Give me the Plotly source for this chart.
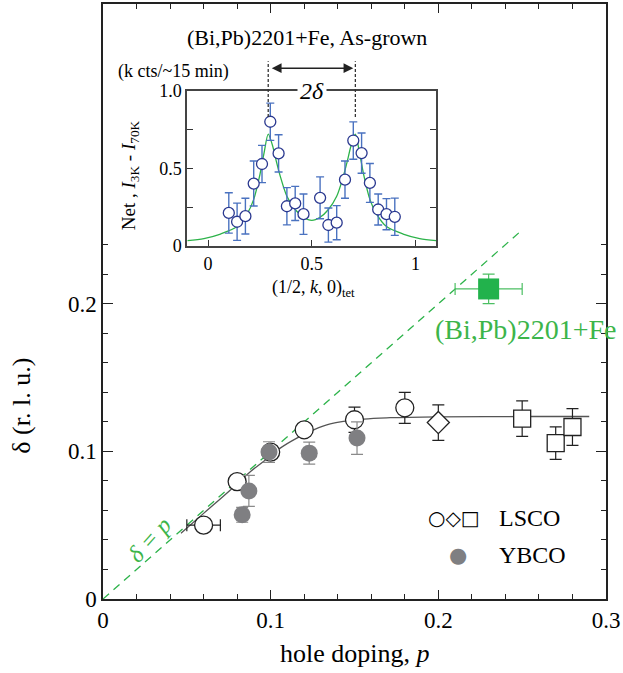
import plotly.graph_objects as go

# ---------------- main panel data ----------------
lsco_circ_p = [0.06, 0.08, 0.10, 0.12, 0.15, 0.18]
lsco_circ_d = [0.050, 0.0795, 0.0995, 0.1146, 0.1214, 0.1295]
lsco_circ_derr = [0.0, 0.0, 0.0, 0.0, 0.0086, 0.0105]
lsco_circ_perr = [0.01, 0.0, 0.0, 0.0, 0.0, 0.0]

lsco_dia_p = [0.20]
lsco_dia_d = [0.1195]
lsco_dia_derr = [0.012]

lsco_sq_p = [0.25, 0.27, 0.28]
lsco_sq_d = [0.1222, 0.1056, 0.1165]
lsco_sq_derr = [0.012, 0.011, 0.0125]

ybco_p = [0.083, 0.087, 0.099, 0.123, 0.1515]
ybco_d = [0.057, 0.0732, 0.0995, 0.0988, 0.109]
ybco_derr = [0.005, 0.0105, 0.007, 0.0074, 0.011]

bi_p = [0.23]
bi_d = [0.21]
bi_perr = [0.02]
bi_derr = [0.01]

fit_p = [0.0465, 0.06, 0.076, 0.088, 0.0995, 0.1057, 0.1156, 0.1256, 0.1355,
         0.1554, 0.1713, 0.20, 0.25, 0.29]
fit_d = [0.0445, 0.058, 0.0739, 0.0863, 0.0965, 0.1022, 0.1090, 0.1146, 0.1186,
         0.1218, 0.1228, 0.1234, 0.1236, 0.1236]

line_p = [0.0, 0.25]
line_d = [0.0, 0.25]

# ---------------- inset data ----------------
k_pts = [0.10, 0.14, 0.18, 0.22, 0.26, 0.30, 0.34, 0.38, 0.42, 0.46,
         0.54, 0.58, 0.62, 0.66, 0.70, 0.74, 0.78, 0.82, 0.86, 0.90]
i_pts = [0.213, 0.156, 0.192, 0.402, 0.528, 0.800, 0.596, 0.256, 0.274, 0.205,
         0.310, 0.135, 0.150, 0.427, 0.679, 0.598, 0.406, 0.235, 0.205, 0.188]
i_err = [0.13, 0.12, 0.115, 0.145, 0.12, 0.12, 0.12, 0.12, 0.11, 0.13,
         0.135, 0.11, 0.11, 0.12, 0.12, 0.13, 0.125, 0.10, 0.10, 0.12]

k_fit = [-0.10, -0.02, 0.06, 0.14, 0.19, 0.22, 0.25, 0.27, 0.29, 0.31, 0.33, 0.35,
         0.38, 0.42, 0.46, 0.50, 0.54, 0.58, 0.62, 0.65, 0.67, 0.69, 0.71, 0.73,
         0.75, 0.78, 0.81, 0.86, 0.94, 1.02, 1.10]
i_fit = [0.034, 0.048, 0.077, 0.125, 0.21, 0.30, 0.46, 0.60, 0.72, 0.65, 0.54, 0.44,
         0.32, 0.235, 0.185, 0.165, 0.185, 0.235, 0.32, 0.44, 0.54, 0.65, 0.72, 0.60,
         0.46, 0.30, 0.21, 0.125, 0.077, 0.048, 0.034]

peak_k = [0.29, 0.71]

# ---------------- styles ----------------
SERIF = "Liberation Serif"
GREEN = "#2db34a"
GREEN_T = "#3cb54a"
BLUE = "#2b3990"
BLUE_E = "#4a72c0"
GRAY = "#7f7f82"
INK = "#222222"

fig = go.Figure()

# main panel
fig.add_trace(go.Scatter(x=line_p, y=line_d, mode="lines",
                         line=dict(color=GREEN, width=1.3, dash="8px,6px"),
                         xaxis="x", yaxis="y", showlegend=False))
fig.add_trace(go.Scatter(x=fit_p, y=fit_d, mode="lines",
                         line=dict(color="#555555", width=1.3, shape="spline"),
                         xaxis="x", yaxis="y", showlegend=False))
fig.add_trace(go.Scatter(x=lsco_circ_p, y=lsco_circ_d, mode="markers",
                         marker=dict(symbol="circle", size=18, color="white",
                                     line=dict(color=INK, width=1.3)),
                         error_y=dict(type="data", array=lsco_circ_derr, color=INK,
                                      thickness=1.2, width=6),
                         error_x=dict(type="data", array=lsco_circ_perr, color=INK,
                                      thickness=1.2, width=6),
                         showlegend=False))
fig.add_trace(go.Scatter(x=lsco_dia_p, y=lsco_dia_d, mode="markers",
                         marker=dict(symbol="diamond", size=17, color="white",
                                     line=dict(color=INK, width=1.3)),
                         error_y=dict(type="data", array=lsco_dia_derr, color=INK,
                                      thickness=1.2, width=6),
                         showlegend=False))
fig.add_trace(go.Scatter(x=lsco_sq_p, y=lsco_sq_d, mode="markers",
                         marker=dict(symbol="square", size=17, color="white",
                                     line=dict(color=INK, width=1.3)),
                         error_y=dict(type="data", array=lsco_sq_derr, color=INK,
                                      thickness=1.2, width=6),
                         showlegend=False))
fig.add_trace(go.Scatter(x=ybco_p, y=ybco_d, mode="markers",
                         marker=dict(symbol="circle", size=17, color=GRAY,
                                     line=dict(width=0)),
                         error_y=dict(type="data", array=ybco_derr, color="#8a8a8a",
                                      thickness=1.2, width=6),
                         showlegend=False))
fig.add_trace(go.Scatter(x=bi_p, y=bi_d, mode="markers",
                         marker=dict(symbol="square", size=21, color="#22b24c",
                                     line=dict(width=0)),
                         error_y=dict(type="data", array=bi_derr, color="#4cbf63",
                                      thickness=1.2, width=6),
                         error_x=dict(type="data", array=bi_perr, color="#4cbf63",
                                      thickness=1.2, width=6),
                         showlegend=False))

# inset
fig.add_trace(go.Scatter(x=k_fit, y=i_fit, mode="lines",
                         line=dict(color=GREEN, width=1.3, shape="spline", smoothing=0.8),
                         xaxis="x2", yaxis="y2", showlegend=False))
fig.add_trace(go.Scatter(x=k_pts, y=i_pts, mode="markers",
                         marker=dict(symbol="circle", size=11, color="white",
                                     line=dict(color=BLUE, width=1.3)),
                         error_y=dict(type="data", array=i_err, color=BLUE_E,
                                      thickness=1.4, width=4),
                         xaxis="x2", yaxis="y2", showlegend=False))

# ---------------- axes ----------------
tick_font = dict(family=SERIF, size=23, color="black")
minor_y_main = [round(0.02 * i, 2) for i in range(1, 13) if i % 5 != 0]

fig.update_layout(
    width=623, height=673,
    margin=dict(l=103, r=17, t=4, b=74, autoexpand=False),
    paper_bgcolor="white", plot_bgcolor="white",
    xaxis=dict(range=[0, 0.3], tickvals=[0, 0.1, 0.2, 0.3],
               ticktext=["0", "0.1", "0.2", "0.3"],
               ticks="inside", ticklen=9, tickwidth=1.3, tickcolor=INK,
               minor=dict(ticks="inside", dtick=0.02, ticklen=5, tickwidth=1.2, tickcolor=INK),
               showline=True, linecolor=INK, linewidth=1.5, mirror="ticks",
               showgrid=False, zeroline=False, tickfont=tick_font, automargin=False),
    yaxis=dict(range=[0, 0.403], tickvals=[0, 0.1, 0.2],
               ticktext=["0", "0.1", "0.2"],
               ticks="inside", ticklen=10, tickwidth=1.3, tickcolor=INK,
               minor=dict(ticks="inside", tickvals=minor_y_main, ticklen=5, tickwidth=1.2, tickcolor=INK),
               showline=True, linecolor=INK, linewidth=1.5, mirror="ticks",
               showgrid=False, zeroline=False, tickfont=tick_font, automargin=False),
    xaxis2=dict(domain=[0.1676, 0.6626], anchor="y2", range=[-0.1, 1.1],
                tickvals=[0, 0.5, 1], ticktext=["0", "0.5", "1"],
                ticks="inside", ticklen=6, tickwidth=1.3, tickcolor="#333",
                showline=True, linecolor="#444", linewidth=2, mirror=True,
                showgrid=False, zeroline=False,
                tickfont=dict(family=SERIF, size=18, color="black")),
    yaxis2=dict(domain=[0.5933, 0.8543], anchor="x2", range=[0, 1.0],
                tickvals=[0, 0.5, 1.0], ticktext=["0", "0.5", "1.0"],
                ticks="inside", ticklen=6, tickwidth=1.3, tickcolor="#333",
                minor=dict(ticks="inside", dtick=0.25, ticklen=6, tickwidth=1.3, tickcolor="#333"),
                showline=True, linecolor="#444", linewidth=2, mirror="ticks",
                showgrid=False, zeroline=False,
                tickfont=dict(family=SERIF, size=18, color="black")),
)

# dashed peak markers (y given as fraction of inset height, may exceed 1)
for kk in peak_k:
    fig.add_shape(type="line", xref="x2", yref="y2 domain", x0=kk, x1=kk,
                  y0=0.83, y1=1.19,
                  line=dict(color="#333", width=1.3, dash="3px,2px"))

C = dict(xanchor="center", yanchor="middle", showarrow=False)
ann = []
# double arrow
ann.append(dict(xref="x2", yref="y2 domain", axref="x2", ayref="y2 domain",
                x=peak_k[1] - 0.01, y=1.145, ax=peak_k[0] + 0.01, ay=1.145,
                showarrow=True, arrowhead=2, arrowside="end+start", arrowsize=1.3,
                arrowwidth=1.5, arrowcolor="#222", text=""))
ann.append(dict(xref="x2", yref="y2", x=0.5, y=1.0, text="<i>2δ</i>",
                bgcolor="white", borderpad=2,
                font=dict(family=SERIF, size=24, color="black"), **C))
ann.append(dict(xref="paper", yref="paper", x=0.4056, y=0.9445,
                text="(Bi,Pb)2201+Fe, As-grown",
                font=dict(family=SERIF, size=22, color="black"), **C))
ann.append(dict(xref="paper", yref="paper", x=0.141, y=0.887,
                text="(k cts/~15 min)",
                font=dict(family=SERIF, size=18, color="black"), **C))
ann.append(dict(xref="paper", yref="paper", x=0.054, y=0.7126, textangle=-90,
                text="Net , <i>I</i><sub>3K</sub> - <i>I</i><sub>70K</sub>",
                font=dict(family=SERIF, size=19, color="black"), **C))
ann.append(dict(xref="paper", yref="paper", x=0.4175, y=0.522,
                text="(1/2, <i>k</i>, 0)<sub>tet</sub>",
                font=dict(family=SERIF, size=18, color="black"), **C))
# main titles
ann.append(dict(xref="paper", yref="paper", x=0.501, y=-0.0908,
                text="hole doping, <i>p</i>",
                font=dict(family=SERIF, size=26, color="black"), **C))
ann.append(dict(xref="paper", yref="paper", x=-0.161, y=0.325, textangle=-90,
                text="δ (r. l. u.)",
                font=dict(family=SERIF, size=26, color="black"), **C))
# labels
ann.append(dict(xref="x", yref="y", x=0.252, y=0.1824,
                text="(Bi,Pb)2201+Fe",
                font=dict(family=SERIF, size=28, color=GREEN_T), **C))
ann.append(dict(xref="x", yref="y", x=0.0276, y=0.040, textangle=-48,
                text="<i>δ = p</i>",
                font=dict(family=SERIF, size=24, color=GREEN_T), **C))
# legend
ann.append(dict(xref="paper", yref="paper", x=0.642, y=0.136, xanchor="left", yanchor="middle",
                text="○◇□", showarrow=False,
                font=dict(family="DejaVu Sans", size=20, color="black")))
ann.append(dict(xref="paper", yref="paper", x=0.783, y=0.136, xanchor="left", yanchor="middle",
                text="LSCO", showarrow=False,
                font=dict(family=SERIF, size=24, color="black")))
ann.append(dict(xref="paper", yref="paper", x=0.706, y=0.074,
                text="●",
                font=dict(family="DejaVu Sans", size=21, color=GRAY), **C))
ann.append(dict(xref="paper", yref="paper", x=0.783, y=0.074, xanchor="left", yanchor="middle",
                text="YBCO", showarrow=False,
                font=dict(family=SERIF, size=24, color="black")))
fig.update_layout(annotations=ann)

fig.write_html("out.html")
